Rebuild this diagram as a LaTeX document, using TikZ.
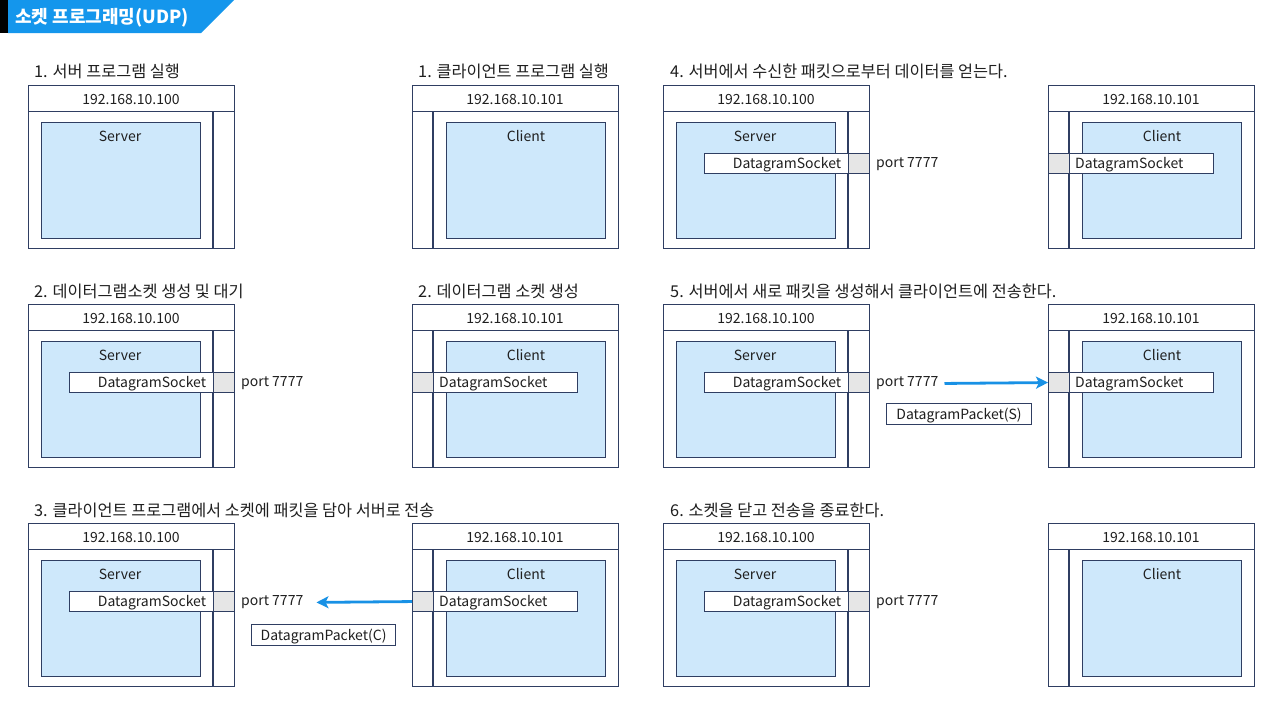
\documentclass[tikz,border=0pt]{standalone}
\usepackage{fontspec}
\setmainfont{Noto Sans CJK KR}
\usetikzlibrary{arrows.meta}
\definecolor{navy}{RGB}{47,62,98}
\definecolor{lblue}{RGB}{206,232,251}
\definecolor{sgray}{RGB}{230,230,230}
\definecolor{abl}{RGB}{24,145,229}
\definecolor{banner}{RGB}{20,150,236}
\tikzset{
  box/.style={draw=navy, line width=1.1pt, fill=white, inner sep=0pt, anchor=north west},
  txt/.style={inner sep=0pt, yshift=-1.5pt, font=\fontsize{14}{16}\selectfont, text=black!88},
  ttl/.style={inner sep=0pt, anchor=west, yshift=-1pt, font=\fontsize{16.3}{18}\selectfont, text=black!88},
  sepline/.style={draw=navy, line width=1.1pt},
  sendarrow/.style={draw=abl, line width=2.8pt, -{Stealth[length=12pt,width=12pt,inset=3pt]}},
}
\newcommand\serverhost[3]{%
\begin{scope}[shift={(#1,#2)}]
\node[box, minimum width=206pt, minimum height=163pt] (#3) at (0,0) {};
\node[box, minimum width=206pt, minimum height=26pt] (#3h) at (0,0) {};
\node[txt] (#3ip) at (103,13) {192.168.10.100};
\draw[sepline] (185,26) -- (185,163);
\node[box, fill=lblue, minimum width=159pt, minimum height=116pt] (#3in) at (13,37) {};
\node[txt] (#3lb) at (92,50) {Server};
\end{scope}}
\newcommand\clienthost[3]{%
\begin{scope}[shift={(#1,#2)}]
\node[box, minimum width=206pt, minimum height=163pt] (#3) at (0,0) {};
\node[box, minimum width=206pt, minimum height=26pt] (#3h) at (0,0) {};
\node[txt] (#3ip) at (103,13) {192.168.10.101};
\draw[sepline] (21,26) -- (21,163);
\node[box, fill=lblue, minimum width=159pt, minimum height=116pt] (#3in) at (34,37) {};
\node[txt] (#3lb) at (114,50) {Client};
\end{scope}}
\newcommand\serversock[3]{%
\begin{scope}[shift={(#1,#2)}]
\node[box, minimum width=144pt, minimum height=20pt] (#3s) at (41,68) {};
\node[txt] (#3st) at (124,78) {DatagramSocket};
\node[box, fill=sgray, minimum width=21pt, minimum height=20pt] (#3g) at (185,68) {};
\node[txt, anchor=west] (#3p) at (213,78) {port 7777};
\end{scope}}
\newcommand\clientsock[3]{%
\begin{scope}[shift={(#1,#2)}]
\node[box, minimum width=144pt, minimum height=20pt] (#3s) at (21,68) {};
\node[txt, anchor=west] (#3st) at (27,78) {DatagramSocket};
\node[box, fill=sgray, minimum width=21pt, minimum height=20pt] (#3g) at (0,68) {};
\end{scope}}
\begin{document}
\begin{tikzpicture}[x=1pt,y=-1pt]
\useasboundingbox (0,0) rectangle (1280,713);
\fill[white] (0,0) rectangle (1280,713);
% banner
\fill[black] (0,0) rectangle (8,33);
\fill[banner] (8,0) -- (234,0) -- (201,33) -- (8,33) -- cycle;
\node[inner sep=0pt, anchor=west, yshift=-1pt, text=white, font=\fontsize{18}{20}\selectfont\bfseries] (title) at (15,17) {소켓 프로그래밍(UDP)};
% titles
\node[ttl] (t1) at (34,70) {1. 서버 프로그램 실행};
\node[ttl] (t2) at (418,70) {1. 클라이언트 프로그램 실행};
\node[ttl] (t3) at (670,70) {4. 서버에서 수신한 패킷으로부터 데이터를 얻는다.};
\node[ttl] (t4) at (34,290) {2. 데이터그램소켓 생성 및 대기};
\node[ttl] (t5) at (418,290) {2. 데이터그램 소켓 생성};
\node[ttl] (t6) at (670,290) {5. 서버에서 새로 패킷을 생성해서 클라이언트에 전송한다.};
\node[ttl] (t7) at (34,509) {3. 클라이언트 프로그램에서 소켓에 패킷을 담아 서버로 전송};
\node[ttl] (t8) at (670,509) {6. 소켓을 닫고 전송을 종료한다.};
% row 1
\serverhost{28}{85}{sa}
\clienthost{412}{85}{ca}
\serverhost{663}{85}{sb}
\serversock{663}{85}{sb}
\clienthost{1048}{85}{cb}
\clientsock{1048}{85}{cb}
% row 2
\serverhost{28}{304}{sc}
\serversock{28}{304}{sc}
\clienthost{412}{304}{cc}
\clientsock{412}{304}{cc}
\serverhost{663}{304}{sd}
\serversock{663}{304}{sd}
\clienthost{1048}{304}{cd}
\clientsock{1048}{304}{cd}
\node[box, minimum width=145pt, minimum height=21pt] (pkS) at (886,403) {};
\node[txt] (pkSt) at (pkS.center) {DatagramPacket(S)};
\draw[sendarrow, shorten <=6pt] (sdp.east) -- (cdg.west);
% row 3
\serverhost{28}{523}{se}
\serversock{28}{523}{se}
\clienthost{412}{523}{ce}
\clientsock{412}{523}{ce}
\serverhost{663}{523}{sf}
\serversock{663}{523}{sf}
\clienthost{1048}{523}{cf}
\node[box, minimum width=144pt, minimum height=21pt] (pkC) at (251,624) {};
\node[txt] (pkCt) at (pkC.center) {DatagramPacket(C)};
\draw[sendarrow, shorten >=13pt] (ceg.west) -- (sep.east);
\end{tikzpicture}
\end{document}
